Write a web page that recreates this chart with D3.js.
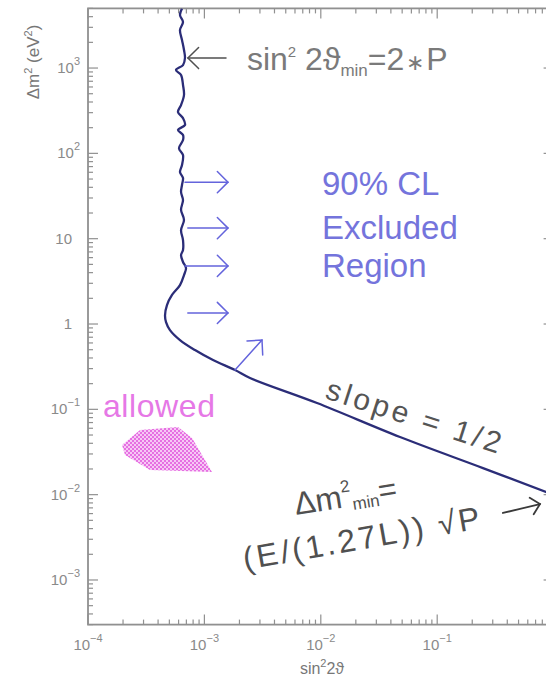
<!DOCTYPE html>
<html><head><meta charset="utf-8">
<script src="https://cdn.jsdelivr.net/npm/d3@7"></script>
<style>body{margin:0;background:#fff}svg{display:block;font-family:"Liberation Sans",Arial,sans-serif}</style>
</head><body><svg id="c" width="546" height="682"></svg>
<script>
// ---- data ----
const limitSin2 = [6.42e-4,6.17e-4,6.55e-4,6.17e-4,6.42e-4,6.68e-4,6.81e-4,6.55e-4,5.70e-4,6.30e-4,6.55e-4,6.68e-4,6.30e-4,5.93e-4,6.55e-4,6.81e-4,5.93e-4,6.55e-4,6.55e-4,6.05e-4,6.55e-4,6.42e-4,6.17e-4,6.55e-4,6.42e-4,6.30e-4,6.55e-4,6.30e-4,6.68e-4,6.30e-4,6.55e-4,6.55e-4,6.30e-4,6.55e-4,6.95e-4,6.68e-4,6.17e-4,5.27e-4,4.77e-4,4.59e-4,4.68e-4,5.06e-4,6.17e-4,8.30e-4,1.186e-3,1.832e-3,2.465e-3,9.28e-3,0.0479,0.2474,0.860,1.0];
const limitDm2 = [5000,4180,3460,2790,2130,1625,1310,1084,948,828,632,483,368,305,259,215,188,164,143,115,95.5,73,60.4,51.4,42.6,35.2,28.4,21.7,16.6,12.6,9.64,7.36,6.44,5.33,4.53,3.75,2.86,2.19,1.67,1.27,1.05,0.849,0.649,0.495,0.378,0.289,0.233,0.1186,0.0474,0.0205,0.01075,0.0099];
const allowedSin2 = [1.96e-4,2.80e-4,5.93e-4,7.83e-4,1.162e-3,3.41e-4,2.08e-4];
const allowedDm2 = [0.0382,0.0572,0.0621,0.0461,0.01842,0.01945,0.02915];
const xTickValues = [1e-4,1e-3,1e-2,1e-1];
const xTickBase = ["10","10","10","10"];
const xTickExp = ["−4","−3","−2","−1"];
const yTickValues = [1e-3,1e-2,1e-1,1,10,1e2,1e3];
const yTickBase = ["10","10","10","1","10","10","10"];
const yTickExp = ["−3","−2","−1","","","2","3"];
// excluded-region arrows (sin2 start, sin2 end, dm2)
const exclArrowStart = [6.81e-4,7.2e-4,6.81e-4,7.2e-4];
const exclArrowEnd = [1.595e-3,1.595e-3,1.595e-3,1.595e-3];
const exclArrowDm2 = [46,13.3,4.8,1.35];
const diagArrowSin2 = [1.832e-3,3.125e-3];
const diagArrowDm2 = [0.289,0.649];
const leftArrowSin2 = [1.533e-3,7.22e-4];
const leftArrowDm2 = [1310,1310];
const rightArrowSin2 = [0.367,0.764];
const rightArrowDm2 = [6.1e-3,7.77e-3];

// ---- scales ----
const svg = d3.select("#c");
const x = d3.scaleLog().domain([1e-4,1]).range([88,553.6]);
const y = d3.scaleLog().domain([3e-4,5e3]).range([624.6,8.4]);
const axisColor = "#909090";
const defs = svg.append("defs");
defs.append("clipPath").attr("id","plot").append("rect")
  .attr("x",x(1e-4)).attr("y",y(5e3)).attr("width",x(1)-x(1e-4)).attr("height",y(3e-4)-y(5e3));
const pat = defs.append("pattern").attr("id","dots").attr("width",4).attr("height",4).attr("patternUnits","userSpaceOnUse");
pat.append("rect").attr("width",4).attr("height",4).attr("fill","#f7c8f5");
pat.append("rect").attr("width",2).attr("height",2).attr("fill","#e670e2");
pat.append("rect").attr("x",2).attr("y",2).attr("width",2).attr("height",2).attr("fill","#e670e2");

// ---- frame & ticks ----
const x0=x(1e-4), x1=x(1), yB=y(3e-4), yT=y(5e3);
svg.append("rect").attr("x",x0).attr("y",yT).attr("width",x1-x0).attr("height",yB-yT)
  .attr("fill","none").attr("stroke",axisColor).attr("stroke-width",1.8);
const xMinor=[], yMinor=[];
for(let e=-4;e<0;e++) for(let m=2;m<=9;m++) xMinor.push(m*Math.pow(10,e));
for(let m=3;m<=9;m++) yMinor.push(m*1e-4);
for(let e=-3;e<3;e++) for(let m=2;m<=9;m++) yMinor.push(m*Math.pow(10,e));
for(let m=2;m<=5;m++) yMinor.push(m*1e3);
const tk = svg.append("g").attr("stroke",axisColor).attr("stroke-width",1.2);
function xt(v,len){ tk.append("line").attr("x1",x(v)).attr("x2",x(v)).attr("y1",yB).attr("y2",yB-len);
  tk.append("line").attr("x1",x(v)).attr("x2",x(v)).attr("y1",yT).attr("y2",yT+len); }
function yt(v,len){ tk.append("line").attr("y1",y(v)).attr("y2",y(v)).attr("x1",x0).attr("x2",x0+len);
  tk.append("line").attr("y1",y(v)).attr("y2",y(v)).attr("x1",x1).attr("x2",x1-len); }
xTickValues.forEach(v=>xt(v,10)); xMinor.forEach(v=>xt(v,5));
yTickValues.forEach(v=>yt(v,10)); yMinor.forEach(v=>yt(v,5));

// tick labels
const tl = svg.append("g").attr("fill","#8a8a8a").attr("font-size",15);
xTickValues.forEach((v,i)=>{
  const t = tl.append("text").attr("x",x(v)).attr("y",650).attr("text-anchor","middle");
  t.append("tspan").text(xTickBase[i]);
  t.append("tspan").attr("dy",-8).attr("font-size",11).text(xTickExp[i]);
});
yTickValues.forEach((v,i)=>{
  const t = tl.append("text").attr("x",yTickExp[i]?80:72).attr("y",y(v)+5).attr("text-anchor","end");
  t.append("tspan").text(yTickBase[i]);
  if(yTickExp[i]) t.append("tspan").attr("dy",-8).attr("font-size",11).text(yTickExp[i]);
});
// axis titles
const xl = svg.append("text").attr("x",322).attr("y",674).attr("text-anchor","middle").attr("fill","#777").attr("font-size",16);
xl.append("tspan").text("sin");
xl.append("tspan").attr("dy",-7).attr("font-size",11).text("2");
xl.append("tspan").attr("dy",7).text("2ϑ");
const yl = svg.append("text").attr("transform","translate(39,62) rotate(-90)").attr("text-anchor","middle").attr("fill","#777").attr("font-size",17);
yl.append("tspan").text("Δm");
yl.append("tspan").attr("dy",-7).attr("font-size",11).text("2");
yl.append("tspan").attr("dy",7).text(" (eV");
yl.append("tspan").attr("dy",-7).attr("font-size",11).text("2");
yl.append("tspan").attr("dy",7).text(")");

// ---- allowed region ----
const plot = svg.append("g").attr("clip-path","url(#plot)");
plot.append("path")
  .attr("d", d3.line().x(d=>x(d[0])).y(d=>y(d[1])).curve(d3.curveLinearClosed)(allowedSin2.map((s,i)=>[s,allowedDm2[i]])))
  .attr("fill","url(#dots)").attr("stroke","none");
svg.append("text").attr("x",x(1.345e-4)).attr("y",y(0.0813)).attr("fill","#e678e6").attr("font-size",32)
  .attr("textLength",112).attr("lengthAdjust","spacing").text("allowed");

// ---- limit curve ----
plot.append("path")
  .attr("d", d3.line().x(d=>x(d[0])).y(d=>y(d[1])).curve(d3.curveCatmullRom.alpha(0.5))(limitSin2.map((s,i)=>[s,limitDm2[i]])))
  .attr("fill","none").attr("stroke","#2b2d78").attr("stroke-width",2.3).attr("stroke-linejoin","round");

// ---- arrows ----
function arrow(xa,ya,xb,yb,color,arm,w){
  const g = svg.append("g").attr("stroke",color).attr("stroke-width",w).attr("fill","none").attr("stroke-linecap","round");
  const X1=x(xa),Y1=y(ya),X2=x(xb),Y2=y(yb);
  const a=Math.atan2(Y2-Y1,X2-X1), h=0.78;
  g.append("line").attr("x1",X1).attr("y1",Y1).attr("x2",X2).attr("y2",Y2);
  g.append("path").attr("d",`M${X2-arm*Math.cos(a-h)},${Y2-arm*Math.sin(a-h)}L${X2},${Y2}L${X2-arm*Math.cos(a+h)},${Y2-arm*Math.sin(a+h)}`);
}
exclArrowDm2.forEach((d,i)=>arrow(exclArrowStart[i],d,exclArrowEnd[i],d,"#6464dc",15,1.5));
arrow(diagArrowSin2[0],diagArrowDm2[0],diagArrowSin2[1],diagArrowDm2[1],"#6464dc",15,1.5);
arrow(leftArrowSin2[0],leftArrowDm2[0],leftArrowSin2[1],leftArrowDm2[1],"#505050",15,1.5);
arrow(rightArrowSin2[0],rightArrowDm2[0],rightArrowSin2[1],rightArrowDm2[1],"#3a3a3a",12,1.8);

// ---- annotations ----
const s1 = svg.append("text").attr("x",x(2.32e-3)).attr("y",y(948)).attr("fill","#7a7a7a").attr("font-size",32);
s1.append("tspan").text("sin");
s1.append("tspan").attr("dy",-13).attr("font-size",15).text("2");
s1.append("tspan").attr("dy",13).text(" 2ϑ");
s1.append("tspan").attr("dy",6).attr("font-size",17).text("min");
s1.append("tspan").attr("dy",-6).text("=2");
s1.append("tspan").attr("font-size",22).attr("dx",2).text("∗");
s1.append("tspan").attr("dx",2).text("P");

const blue = svg.append("g").attr("fill","#7474dc").attr("font-size",33);
blue.append("text").attr("x",x(0.01024)).attr("y",y(32.5)).text("90% CL");
blue.append("text").attr("x",x(0.01024)).attr("y",y(9.9)).text("Excluded");
blue.append("text").attr("x",x(0.01024)).attr("y",y(3.55)).text("Region");

svg.append("text").attr("transform",`translate(${x(0.01065)},${y(0.1357)}) rotate(17.8)`)
  .attr("fill","#555").attr("font-size",30).attr("textLength",182).attr("lengthAdjust","spacing").text("slope = 1/2");

const dm = svg.append("text").attr("transform",`translate(${x(6.12e-3)},${y(5.77e-3)}) rotate(-9)`).attr("fill","#505050").attr("font-size",32);
dm.append("tspan").text("Δm");
dm.append("tspan").attr("dy",-15).attr("font-size",17).text("2");
dm.append("tspan").attr("dy",19).attr("font-size",17).text("min");
dm.append("tspan").attr("dy",-4).text("=");
svg.append("text").attr("transform",`translate(${x(2.23e-3)},${y(1.31e-3)}) rotate(-10)`)
  .attr("fill","#505050").attr("font-size",32).attr("textLength",240).attr("lengthAdjust","spacing").text("(E/(1.27L)) √P");
</script></body></html>
